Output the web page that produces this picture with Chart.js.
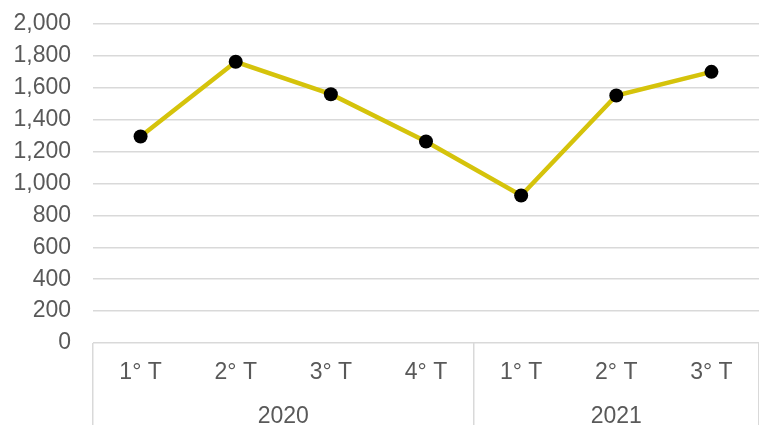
<!DOCTYPE html>
<html>
<head>
<meta charset="utf-8">
<script src="https://cdn.jsdelivr.net/npm/chart.js@4.4.1/dist/chart.umd.min.js"></script>
<style>
  html, body { margin: 0; padding: 0; background: #ffffff; overflow: hidden; }
  canvas { display: block; }
</style>
</head>
<body>
<canvas id="c" width="759" height="425"></canvas>
<script>
const quarters = ["1° T", "2° T", "3° T", "4° T", "1° T", "2° T", "3° T"];
const values = [1295, 1763, 1560, 1263, 925, 1552, 1700];
const years = ["2020", "2021"];
const yearSpans = [4, 3];
const yMin = 0, yMax = 2000, yStep = 200;

// year group boundaries and centers (in category units)
const boundaries = [0];
const yearCenters = [];
yearSpans.forEach((s, i) => {
  const start = boundaries[boundaries.length - 1];
  yearCenters.push(start + s / 2);
  boundaries.push(start + s);
});

const txt = '#595959';
const gridC = '#d9d9d9';
const font = { family: '"Liberation Sans", Arial, sans-serif', size: 23 };

new Chart(document.getElementById('c'), {
  type: 'line',
  data: {
    labels: quarters,
    datasets: [{
      data: values,
      borderColor: '#d5c30b',
      borderWidth: 4.5,
      tension: 0,
      pointRadius: 7,
      pointHoverRadius: 7,
      pointBackgroundColor: '#000000',
      pointBorderWidth: 0,
      clip: false
    }]
  },
  options: {
    responsive: false,
    animation: false,
    layout: { autoPadding: false, padding: { top: 24, left: 0, right: 0, bottom: 0 } },
    plugins: { legend: { display: false }, tooltip: { enabled: false } },
    scales: {
      y: {
        min: yMin, max: yMax,
        ticks: {
          stepSize: yStep, color: txt, font: font, padding: 22,
          callback: v => v.toLocaleString('en-US')
        },
        grid: { color: gridC, lineWidth: 1.5, drawTicks: false },
        border: { display: false },
        afterFit: s => { s.width = 93; s.paddingTop = 12; s.paddingBottom = 12; }
      },
      x: {
        type: 'category',
        position: 'bottom',
        weight: 0,
        offset: true,
        ticks: { color: txt, font: font, padding: -34, maxRotation: 0, autoSkip: false },
        grid: {
          offset: true,
          drawOnChartArea: false,
          drawTicks: true,
          tickLength: 50,
          lineWidth: 1.5,
          tickColor: ctx => (ctx.index === undefined || boundaries.includes(ctx.index)) ? gridC : 'rgba(0,0,0,0)'
        },
        border: { display: false },
        afterFit: s => { s.height = 50; s.paddingLeft = 0; s.paddingRight = 0; }
      },
      x2: {
        type: 'linear',
        position: 'bottom',
        weight: 1,
        min: 0, max: quarters.length,
        afterBuildTicks: s => {
          const vals = boundaries.concat(yearCenters).sort((a, b) => a - b);
          s.ticks = vals.map(v => ({ value: v }));
        },
        ticks: {
          color: txt, font: font, padding: -22, maxRotation: 0, autoSkip: false,
          callback: v => { const i = yearCenters.indexOf(v); return i >= 0 ? years[i] : ''; }
        },
        grid: {
          drawOnChartArea: false,
          drawTicks: true,
          tickLength: 32,
          lineWidth: 1.5,
          tickColor: ctx => (ctx.tick && boundaries.includes(ctx.tick.value)) ? gridC : 'rgba(0,0,0,0)'
        },
        border: { display: false },
        afterFit: s => { s.height = 32; s.paddingLeft = 0; s.paddingRight = 0; }
      }
    }
  }
});
</script>
</body>
</html>
